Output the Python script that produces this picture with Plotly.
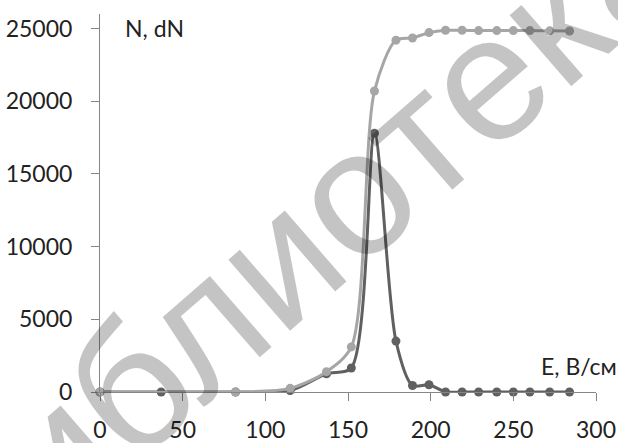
import plotly.graph_objects as go

# Data
E_dN = [0, 37, 82, 115, 137, 152, 166, 179, 189, 199, 209, 219, 229, 240, 250, 260, 272, 284]
dN = [0, 0, 0, 100, 1250, 1650, 17800, 3500, 450, 500, 0, 0, 0, 0, 0, 0, 0, 0]

E_N = [0, 82, 115, 137, 152, 166, 179, 189, 199, 209, 219, 229, 240, 250, 260, 272, 284]
N = [0, 0, 250, 1400, 3100, 20700, 24200, 24350, 24720, 24880, 24880, 24860, 24860, 24860, 24860, 24840, 24830]

x_ticks = [0, 50, 100, 150, 200, 250, 300]
y_ticks = [0, 5000, 10000, 15000, 20000, 25000]
y_labels = [str(v) for v in y_ticks]
x_labels = [str(v) for v in x_ticks]

FONT = "Lato"
axis_col = "#868686"

fig = go.Figure()
fig.add_trace(go.Scatter(
    x=E_dN, y=dN, mode="lines+markers", line=dict(color="#606060", width=3, shape="spline", smoothing=0.8),
    marker=dict(color="#606060", size=9), cliponaxis=False, name="dN"))
fig.add_trace(go.Scatter(
    x=E_N, y=N, mode="lines+markers", line=dict(color="#a6a6a6", width=3, shape="spline", smoothing=0.8),
    marker=dict(color="#a6a6a6", size=9), cliponaxis=False, name="N"))

fig.update_layout(
    width=618, height=443,
    margin=dict(l=100, r=22, t=14, b=51),
    paper_bgcolor="white", plot_bgcolor="white",
    showlegend=False,
    font=dict(family=FONT, size=23, color="#222222"),
    xaxis=dict(range=[0, 300], tickvals=x_ticks, ticktext=x_labels, showgrid=False, zeroline=False,
               showline=True, linecolor=axis_col, linewidth=1, automargin=False,
               ticks="outside", ticklen=8, tickcolor=axis_col, ticklabelstandoff=9),
    yaxis=dict(range=[0, 26000], tickvals=y_ticks, ticktext=y_labels, showgrid=False, zeroline=False,
               showline=True, linecolor=axis_col, linewidth=1, automargin=False,
               ticks="outside", ticklen=8, tickcolor=axis_col, ticklabelstandoff=14),
    annotations=[
        dict(text="N, dN", xref="paper", yref="paper", x=0.046, y=0.963,
             xanchor="left", yanchor="middle", showarrow=False, font=dict(size=23)),
        dict(text="E, В/см", xref="paper", yref="paper", x=1.046, y=0.07,
             xanchor="right", yanchor="middle", showarrow=False, font=dict(size=23)),
        dict(text="библиотека", xref="paper", yref="paper", x=0.401, y=0.399,
             xanchor="center", yanchor="middle", showarrow=False, textangle=-41,
             font=dict(family="Liberation Sans", size=178, color="rgba(0,0,0,0.23)")),
    ],
)

fig.write_html("out.html")
